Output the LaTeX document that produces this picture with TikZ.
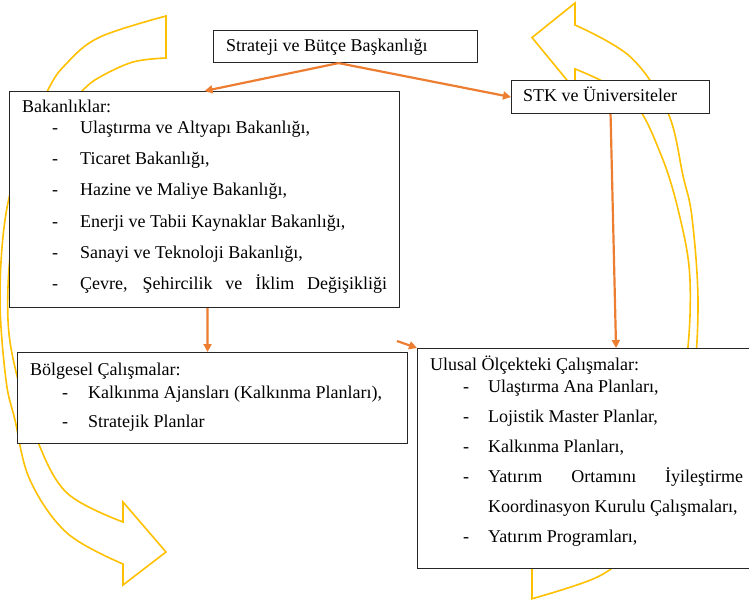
\documentclass[tikz,border=0pt]{standalone}
\usepackage{fontspec}
\setmainfont{Liberation Serif}
\usetikzlibrary{arrows.meta}
\definecolor{yel}{HTML}{FFC000}
\definecolor{org}{HTML}{ED7D31}
\begin{document}
\begin{tikzpicture}[x=1bp,y=-1bp,
  box/.style={draw=black!85, line width=1.1bp, fill=white, inner sep=0pt, anchor=north west},
  txt/.style={anchor=base west, inner sep=0pt, font=\fontsize{18bp}{21bp}\selectfont},
  conn/.style={draw=org, line width=2.2bp, -{Triangle[length=8bp,width=8bp]}},
  yarr/.style={draw=yel, line width=1.6bp, line join=miter}]
\useasboundingbox (0,0) rectangle (749,600);

% curved block arrows
\def\curvedarrow{%
  plot[smooth, tension=0.6] coordinates {(166,16) (100,37) (67,63) (47,92) (20,160) (5,220) (0,300) (6,380) (15,420) (30,480) (67,533) (123,564)}
  -- (123,585) -- (166,552) -- (123,502) -- (123,522)
  -- plot[smooth, tension=0.6] coordinates {(123,522) (67,493) (37,440) (18,380) (8,320) (12,240) (30,170) (55,120) (83,90) (100,77) (133,62) (166,58)}
  -- cycle}
\draw[yarr] \curvedarrow;
\begin{scope}[shift={(698,615.5)}, xscale=-1, yscale=-1.047]
\draw[yarr] \curvedarrow;
\end{scope}

% boxes
\node[box, minimum width=264bp, minimum height=32bp] (strat) at (213,30) {};
\node[box, minimum width=390bp, minimum height=216bp] (bak) at (9,91) {};
\node[box, minimum width=198bp, minimum height=33bp] (stk) at (511,80) {};
\node[box, minimum width=390bp, minimum height=91bp] (bolg) at (17,352) {};
\node[box, minimum width=333bp, minimum height=220bp] (ulus) at (417,348) {};

% texts
\node[txt] (t1) at (226,52) {Strateji ve Bütçe Başkanlığı};
\node[txt] (t2) at (523,102) {STK ve Üniversiteler};

\node[txt] (b0) at (22,113) {Bakanlıklar:};
\node[txt] (bd1) at (52,134) {-};
\node[txt] (b1) at (80,134) {Ulaştırma ve Altyapı Bakanlığı,};
\node[txt] (bd2) at (52,165) {-};
\node[txt] (b2) at (80,165) {Ticaret Bakanlığı,};
\node[txt] (bd3) at (52,196) {-};
\node[txt] (b3) at (80,196) {Hazine ve Maliye Bakanlığı,};
\node[txt] (bd4) at (52,227) {-};
\node[txt] (b4) at (80,227) {Enerji ve Tabii Kaynaklar Bakanlığı,};
\node[txt] (bd5) at (52,258) {-};
\node[txt] (b5) at (80,258) {Sanayi ve Teknoloji Bakanlığı,};
\node[txt] (bd6) at (52,289) {-};
\node[txt] (b6) at (80,289) {\makebox[307bp][s]{Çevre, Şehircilik ve İklim Değişikliği}};

\node[txt] (g0) at (30,375) {Bölgesel Çalışmalar:};
\node[txt] (gd1) at (62,398) {-};
\node[txt] (g1) at (88,398) {Kalkınma Ajansları (Kalkınma Planları),};
\node[txt] (gd2) at (62,427) {-};
\node[txt] (g2) at (88,427) {Stratejik Planlar};

\node[txt] (u0) at (430,370) {Ulusal Ölçekteki Çalışmalar:};
\node[txt] (ud1) at (463,392) {-};
\node[txt] (u1) at (488,392) {Ulaştırma Ana Planları,};
\node[txt] (ud2) at (463,422) {-};
\node[txt] (u2) at (488,422) {Lojistik Master Planlar,};
\node[txt] (ud3) at (463,452) {-};
\node[txt] (u3) at (488,452) {Kalkınma Planları,};
\node[txt] (ud4) at (463,482) {-};
\node[txt] (u4) at (488,482) {\makebox[255bp][s]{Yatırım Ortamını İyileştirme}};
\node[txt] (u5) at (488,512) {Koordinasyon Kurulu Çalışmaları,};
\node[txt] (ud6) at (463,542) {-};
\node[txt] (u6) at (488,542) {Yatırım Programları,};

% connectors
\draw[conn] ([xshift=-7bp]strat.south) -- (bak.north);
\draw[conn] ([xshift=-7bp]strat.south) -- (stk.west);
\draw[conn] (stk.south) -- ([xshift=32bp]ulus.north);
\draw[conn] ([xshift=3bp]bak.south) -- ([xshift=-5bp]bolg.north);
\coordinate (sa) at (397,341);
\draw[conn] (sa) -- (ulus.north west);
\end{tikzpicture}
\end{document}
